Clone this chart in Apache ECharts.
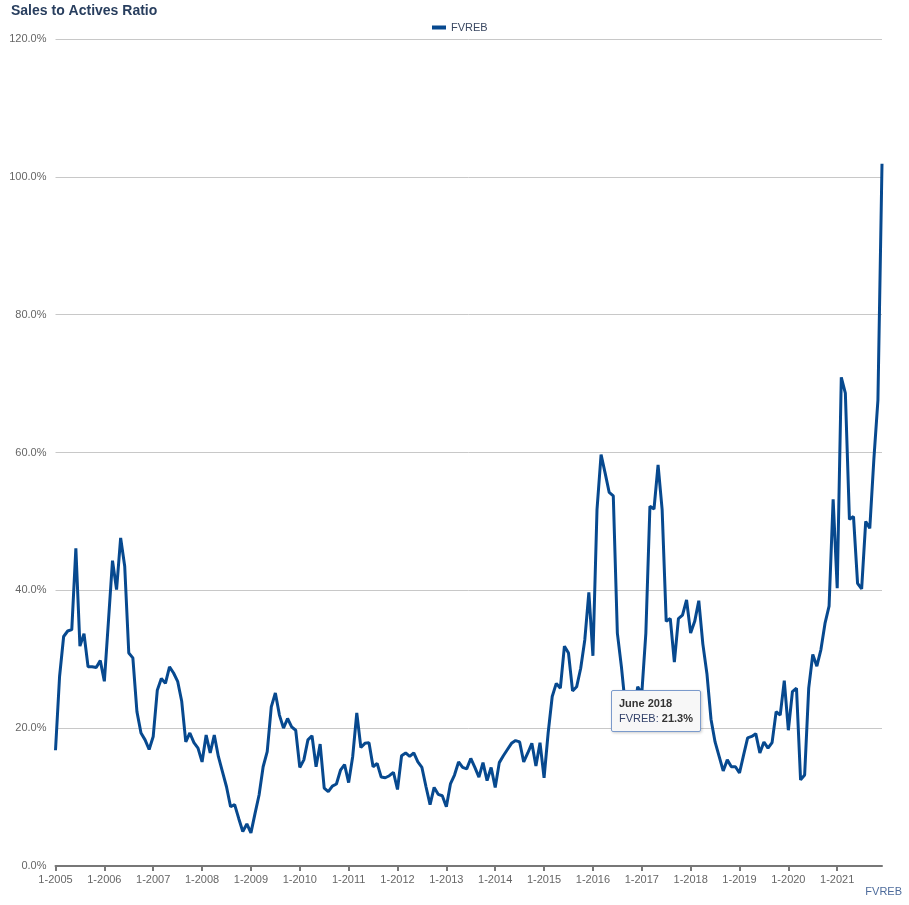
<!DOCTYPE html>
<html>
<head>
<meta charset="utf-8">
<title>Sales to Actives Ratio</title>
<script src="https://cdn.jsdelivr.net/npm/echarts@6/dist/echarts.min.js"></script>
<style>
  html, body { margin: 0; padding: 0; background: #fff; }
  #chart { width: 909px; height: 905px; }
</style>
</head>
<body>
<div id="chart"></div>
<script>
// monthly data, Jan 2005 .. Dec 2021
var startYear = 2005;
var endYear = 2021;
var monthNames = ['January', 'February', 'March', 'April', 'May', 'June',
  'July', 'August', 'September', 'October', 'November', 'December'];

var ratio = [
  16.8, 27.5, 33.3, 34.1, 34.3, 46.1, 31.9, 33.7, 28.9, 28.9, 28.8, 29.8, // 2005
  26.8, 35.5, 44.3, 40.1, 47.6, 43.5, 30.9, 30.2, 22.4, 19.3, 18.3, 16.9, // 2006
  18.8, 25.5, 27.2, 26.5, 28.9, 28.0, 26.8, 23.9, 18.0, 19.3, 17.9, 17.1, // 2007
  15.1, 19.0, 16.4, 19.0, 15.9, 13.7, 11.5, 8.6, 8.9, 6.9, 5.0, 6.1,      // 2008
  4.8, 7.6, 10.3, 14.4, 16.6, 23.1, 25.1, 21.9, 20.0, 21.4, 20.2, 19.7,   // 2009
  14.3, 15.4, 18.3, 18.9, 14.4, 17.7, 11.3, 10.8, 11.6, 11.9, 13.9, 14.7, // 2010
  12.1, 15.9, 22.2, 17.2, 17.8, 17.9, 14.4, 14.9, 12.9, 12.8, 13.1, 13.6, // 2011
  11.1, 16.0, 16.4, 15.9, 16.4, 15.1, 14.3, 11.5, 8.9, 11.4, 10.4, 10.2,  // 2012
  8.6, 11.9, 13.2, 15.1, 14.3, 14.1, 15.6, 14.3, 12.9, 15.0, 12.4, 14.3,  // 2013
  11.4, 15.0, 16.0, 16.9, 17.8, 18.2, 18.0, 15.1, 16.4, 17.8, 14.5, 17.9, // 2014
  12.8, 19.3, 24.6, 26.5, 25.8, 31.9, 30.9, 25.4, 26.0, 28.7, 32.8, 39.7, // 2015
  30.5, 51.7, 59.7, 57.0, 54.2, 53.7, 33.8, 28.9, 23.0, 20.0, 22.0, 26.0, // 2016
  25.0, 33.8, 52.2, 51.8, 58.2, 51.7, 35.5, 35.9, 29.6, 35.9, 36.4, 38.6, // 2017
  33.8, 35.5, 38.5, 32.2, 27.9, 21.3, 18.0, 15.9, 13.8, 15.4, 14.4, 14.4, // 2018
  13.5, 16.1, 18.6, 18.8, 19.2, 16.4, 18.0, 17.1, 17.9, 22.4, 21.9, 26.9, // 2019
  19.7, 25.3, 25.8, 12.5, 13.2, 25.8, 30.7, 29.0, 31.4, 35.2, 37.7, 53.2, // 2020
  40.3, 70.9, 68.6, 50.3, 50.7, 41.0, 40.2, 50.0, 49.0, 59.0, 67.6, 101.9 // 2021
];

var seriesName = 'FVREB';
var tipIndex = (2018 - startYear) * 12 + 5; // June 2018

var categories = [];
var tipLabels = [];
for (var yr = startYear; yr <= endYear; yr++) {
  for (var m = 0; m < 12; m++) {
    categories.push((m + 1) + '-' + yr);
    tipLabels.push(monthNames[m] + ' ' + yr);
  }
}

var font = 'Arial, "Liberation Sans", sans-serif';
var chart = echarts.init(document.getElementById('chart'));

chart.setOption({
  animation: false,
  textStyle: { fontFamily: font },
  title: [{
    text: 'Sales to Actives Ratio',
    left: 11,
    top: 4,
    padding: 0,
    textStyle: { fontSize: 14, fontWeight: 'bold', color: '#283e5e', fontFamily: font }
  }, {
    text: 'FVREB',
    right: 7,
    top: 886,
    padding: 0,
    textStyle: { fontSize: 11, fontWeight: 'normal', color: '#4e6c9c', fontFamily: font }
  }],
  legend: {
    top: 17,
    left: 432,
    icon: 'rect',
    itemWidth: 14,
    itemHeight: 4,
    itemGap: 6,
    padding: [5, 0],
    textStyle: { fontSize: 11, color: '#3a4862', fontFamily: font },
    data: [seriesName]
  },
  tooltip: {
    trigger: 'axis',
    triggerOn: 'none',
    alwaysShowContent: true,
    transitionDuration: 0,
    axisPointer: { type: 'none' },
    backgroundColor: '#f7f7f7',
    borderColor: '#7b9acb',
    borderWidth: 1,
    padding: [5, 7],
    position: [611, 690],
    extraCssText: 'border-radius:2px;box-shadow:1px 1px 3px rgba(0,0,0,0.2);',
    formatter: function (params) {
      var p = params[0];
      return '<div style="font-family:Arial,Liberation Sans,sans-serif;font-size:11px;line-height:15px;color:#333">' +
        '<b>' + tipLabels[p.dataIndex] + '</b><br/>' +
        '<span style="color:#33426a">' + p.seriesName + ':</span> <b>' + p.value.toFixed(1) + '%</b></div>';
    }
  },
  grid: { left: 55.5, right: 27, top: 39, bottom: 39 },
  xAxis: {
    type: 'category',
    boundaryGap: false,
    data: categories,
    axisLine: { lineStyle: { color: '#777', width: 2 } },
    axisTick: {
      length: 5,
      lineStyle: { color: '#777', width: 2 },
      interval: function (i) { return i % 12 === 0; }
    },
    axisLabel: {
      color: '#666',
      fontSize: 11,
      margin: 8,
      fontFamily: font,
      interval: function (i) { return i % 12 === 0; }
    },
    splitLine: { show: false }
  },
  yAxis: {
    type: 'value',
    min: 0,
    max: 120,
    interval: 20,
    axisLine: { show: false },
    axisTick: { show: false },
    axisLabel: {
      color: '#666',
      fontSize: 11,
      margin: 9,
      fontFamily: font,
      formatter: function (v) { return v.toFixed(1) + '%'; }
    },
    splitLine: { lineStyle: { color: '#c8c8c8', width: 1 } }
  },
  series: [{
    name: seriesName,
    type: 'line',
    data: ratio,
    symbol: 'none',
    color: '#07498f',
    lineStyle: { width: 3, color: '#07498f' },
    emphasis: { disabled: true }
  }]
});

chart.dispatchAction({ type: 'showTip', seriesIndex: 0, dataIndex: tipIndex });
</script>
</body>
</html>
